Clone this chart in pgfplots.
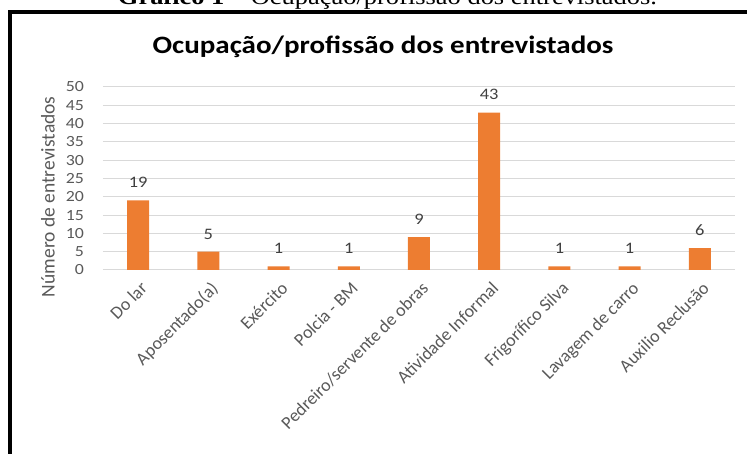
\documentclass[border=0pt]{standalone}
\usepackage{fontspec}
\setmainfont{Carlito}
\newfontfamily\capfont{Liberation Serif}
\usepackage{pgfplots}
\pgfplotsset{compat=1.18}
\definecolor{barorange}{HTML}{ED7D31}
\definecolor{gridgray}{HTML}{D9D9D9}
\definecolor{txtgray}{HTML}{595959}
\definecolor{lblgray}{HTML}{404040}
\begin{document}
\begin{tikzpicture}[x=1pt,y=1pt]
\useasboundingbox (0,0) rectangle (747,454);
\node[anchor=base, inner sep=0pt, xscale=1.15, font=\capfont\fontsize{23}{27}\selectfont] at (387.5,449) {\textbf{Gráfico 1} – Ocupação/profissão dos entrevistados.};
\draw[line width=4.5pt] (10,-10) -- (10,442) -- (760,442);
\node[anchor=base, inner sep=0pt, xscale=1.16, font=\bfseries\fontsize{25}{30}\selectfont] at (383,400) {Ocupação/profissão dos entrevistados};
\begin{axis}[
  at={(103pt,184pt)}, anchor=south west,
  scale only axis, width=632pt, height=183pt,
  ymin=0, ymax=50, ytick={0,5,...,50},
  xmin=-0.5, xmax=8.5, xtick={0,...,8},
  xticklabels={Do lar, Aposentado(a), Exército, Polcia - BM, Pedreiro/servente de obras, Atividade Informal, Frigorífico Silva, Lavagem de carro, Auxilio Reclusão},
  axis line style={draw=none}, tick style={draw=none},
  ymajorgrids, grid style={gridgray, line width=1pt},
  ybar, bar width=22pt, bar shift=0pt,
  /pgf/number format/assume math mode=true,
  yticklabel style={font=\fontsize{15.5}{18}\selectfont, text=txtgray, xscale=1.15, anchor=east, xshift=-13pt},
  xticklabel style={font=\fontsize{18}{21}\selectfont, text=txtgray, rotate=45, anchor=north east, yshift=-2pt},
  nodes near coords,
  every node near coord/.append style={font=\fontsize{16}{19}\selectfont, text=lblgray, xscale=1.15, yshift=9pt},
  ylabel={Número de entrevistados},
  ylabel style={font=\fontsize{19.5}{23}\selectfont, text=txtgray, at={(rel axis cs:-0.087,0.40)}, anchor=center},
]
\addplot[fill=barorange, draw=none] coordinates {(0,19) (1,5) (2,1) (3,1) (4,9) (5,43) (6,1) (7,1) (8,6)};
\end{axis}
\end{tikzpicture}
\end{document}
